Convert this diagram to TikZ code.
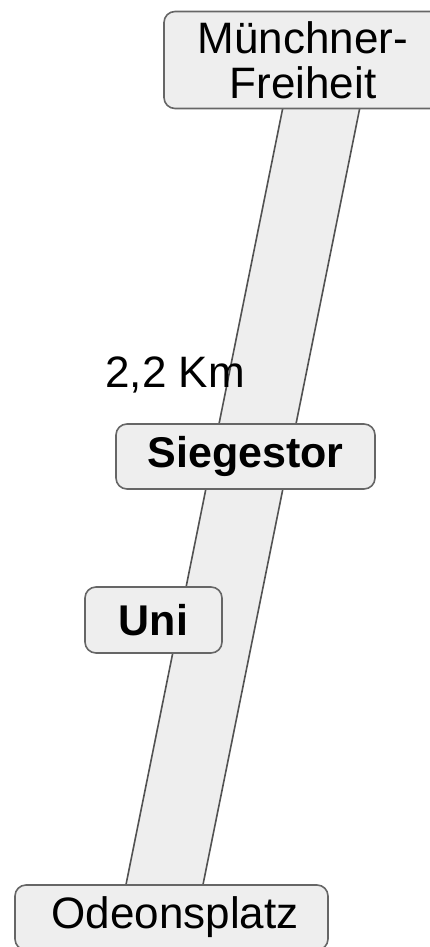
\documentclass[tikz,border=0pt]{standalone}
\usepackage{fontspec}
\setmainfont{Liberation Sans}
\usetikzlibrary{backgrounds}
\definecolor{boxfill}{HTML}{EEEEEE}
\definecolor{boxline}{HTML}{666666}
\begin{document}
\begin{tikzpicture}[x=1pt,y=-1pt,
  station/.style={draw=boxline, fill=boxfill, line width=1.6pt, rounded corners=11pt,
    inner sep=0pt, align=center, font=\fontsize{44}{45}\selectfont},
  bold station/.style={station, font=\fontsize{43}{45}\selectfont\bfseries},
  bandline/.style={draw=boxline!80!black, line width=1.6pt}]
\useasboundingbox (0,0) rectangle (430,947);
\clip (0,0) rectangle (430,947);
\node[station, minimum width=278pt, minimum height=97pt] (mf) at (303,60) {Münchner-\\Freiheit};
\node[station, minimum width=313pt, minimum height=65pt] (od) at (171.5,917.5) {\hspace*{7pt}Odeonsplatz};
\node[bold station, minimum width=259pt, minimum height=65pt] (sg) at (245.5,456.5) {Siegestor};
\node[bold station, minimum width=137pt, minimum height=66pt] (uni) at (153.5,620) {Uni};
\node[font=\fontsize{44}{45}\selectfont, inner sep=0pt] (km) at (175,375) {2,2 Km};
\coordinate (tl) at (284.4,100);
\coordinate (tr) at (361.4,100);
\coordinate (bl) at (124.3,893);
\coordinate (br) at (201.3,893);
\begin{scope}[on background layer]
  \fill[boxfill] (tl) -- (tr) -- (br) -- (bl) -- cycle;
  \draw[bandline] (tl) -- (bl);
  \draw[bandline] (tr) -- (br);
\end{scope}
\end{tikzpicture}
\end{document}
